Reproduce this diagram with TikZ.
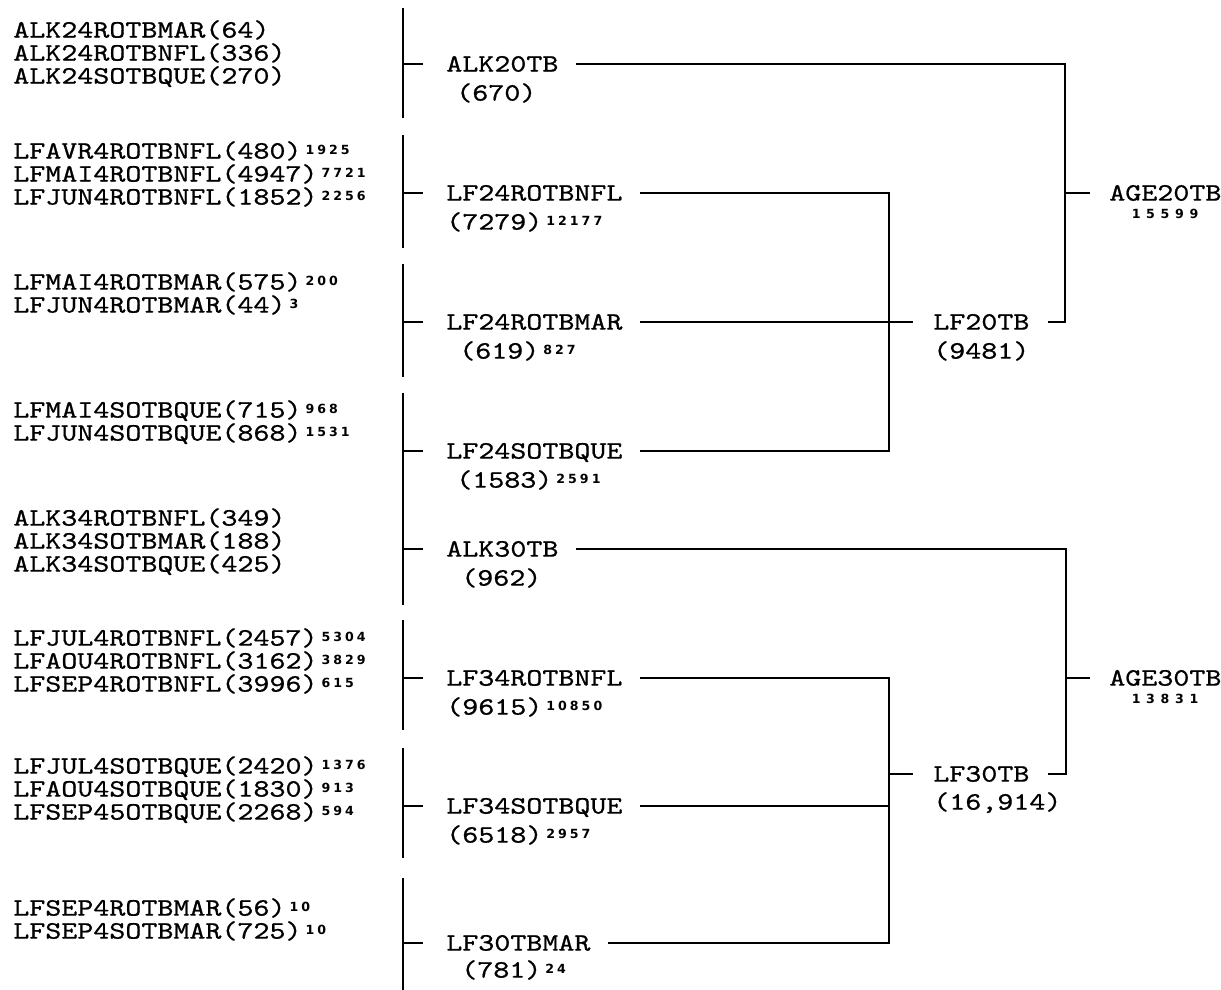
\documentclass[tikz,border=0pt]{standalone}
\usepackage{fontspec}
\newfontfamily\tw{lmmono10-regular}[Extension=.otf, FakeStretch=1.22, FakeBold=0.8]
\newfontfamily\supf{DejaVu Sans}[LetterSpace=24]
\newfontfamily\supw{DejaVu Sans}[LetterSpace=45]
\newcommand\mf{\tw\fontsize{12.5pt}{14pt}\selectfont}
\newcommand\sx[1]{\hspace{2pt}\raisebox{2pt}{\supf\bfseries\fontsize{6.3pt}{6.3pt}\selectfont #1}}
\begin{document}
\begin{tikzpicture}[x=0.5pt,y=-0.5pt,line width=1.3pt,
  txt/.style={font=\mf, inner sep=0pt, anchor=west, text height=7.6pt, text depth=0pt},
  tot/.style={font=\supw\bfseries\fontsize{6.3pt}{6.3pt}\selectfont, inner sep=0pt, anchor=center}]
\useasboundingbox (0,0) rectangle (1221,990);
% left column
\node[txt] (a1) at (12,30) {ALK24ROTBMAR(64)};
\node[txt] (a2) at (12,53) {ALK24ROTBNFL(336)};
\node[txt] (a3) at (12,76) {ALK24SOTBQUE(270)};
\node[txt] (a4) at (12,151) {LFAVR4ROTBNFL(480)\sx{1925}};
\node[txt] (a5) at (12,174) {LFMAI4ROTBNFL(4947)\sx{7721}};
\node[txt] (a6) at (12,197) {LFJUN4ROTBNFL(1852)\sx{2256}};
\node[txt] (a7) at (12,282) {LFMAI4ROTBMAR(575)\sx{200}};
\node[txt] (a8) at (12,305) {LFJUN4ROTBMAR(44)\sx{3}};
\node[txt] (a9) at (12,410) {LFMAI4SOTBQUE(715)\sx{968}};
\node[txt] (a10) at (12,433) {LFJUN4SOTBQUE(868)\sx{1531}};
\node[txt] (a11) at (12,518) {ALK34ROTBNFL(349)};
\node[txt] (a12) at (12,541) {ALK34SOTBMAR(188)};
\node[txt] (a13) at (12,564) {ALK34SOTBQUE(425)};
\node[txt] (a14) at (12,638) {LFJUL4ROTBNFL(2457)\sx{5304}};
\node[txt] (a15) at (12,661) {LFAOU4ROTBNFL(3162)\sx{3829}};
\node[txt] (a16) at (12,684) {LFSEP4ROTBNFL(3996)\sx{615}};
\node[txt] (a17) at (12,766) {LFJUL4SOTBQUE(2420)\sx{1376}};
\node[txt] (a18) at (12,789) {LFAOU4SOTBQUE(1830)\sx{913}};
\node[txt] (a19) at (12,812) {LFSEP45OTBQUE(2268)\sx{594}};
\node[txt] (a20) at (12,908) {LFSEP4ROTBMAR(56)\sx{10}};
\node[txt] (a21) at (12,931) {LFSEP4SOTBMAR(725)\sx{10}};
% group bars
\coordinate (b1t) at (403,8);   \coordinate (b1b) at (403,118);
\coordinate (b2t) at (403,135); \coordinate (b2b) at (403,248);
\coordinate (b3t) at (403,264); \coordinate (b3b) at (403,377);
\coordinate (b4t) at (403,393); \coordinate (b4b) at (403,605);
\coordinate (b6t) at (403,620); \coordinate (b6b) at (403,730);
\coordinate (b7t) at (403,748); \coordinate (b7b) at (403,858);
\coordinate (b8t) at (403,878); \coordinate (b8b) at (403,990);
\foreach \g in {1,2,3,4,6,7,8} {\draw (b\g t) -- (b\g b);}
% middle column
\node[txt] (m1) at (445,64) {ALK20TB};
\node[txt] (n1) at (455,93) {(670)};
\node[txt] (m2) at (445,193) {LF24ROTBNFL};
\node[txt] (n2) at (445,222) {(7279)\sx{12177}};
\node[txt] (m3) at (445,322) {LF24ROTBMAR};
\node[txt] (n3) at (458,351) {(619)\sx{827}};
\node[txt] (m4) at (445,451) {LF24SOTBQUE};
\node[txt] (n4) at (455,480) {(1583)\sx{2591}};
\node[txt] (m5) at (445,549) {ALK30TB};
\node[txt] (n5) at (460,578) {(962)};
\node[txt] (m6) at (445,678) {LF34ROTBNFL};
\node[txt] (n6) at (445,707) {(9615)\sx{10850}};
\node[txt] (m7) at (445,806) {LF34SOTBQUE};
\node[txt] (n7) at (445,835) {(6518)\sx{2957}};
\node[txt] (m8) at (445,943) {LF30TBMAR};
\node[txt] (n8) at (460,970) {(781)\sx{24}};
% ticks from bars
\foreach \m in {1,...,8} {\draw (m\m.west -| b1t) -- ([xshift=-11pt]m\m.west);}
% right column
\node[txt] (r1) at (932,322) {LF20TB};
\node[txt] (s1) at (932,351) {(9481)};
\node[txt] (r2) at (932,774) {LF30TB};
\node[txt] (s2) at (932,802) {(16,914)};
\node[txt] (t1) at (1108,193) {AGE20TB};
\node[tot] (u1) at (1165,214) {15599};
\node[txt] (t2) at (1108,678) {AGE30TB};
\node[tot] (u2) at (1165,699) {13831};
% junctions
\coordinate (ja) at (889,193); \coordinate (jb) at (889,451);
\coordinate (jA) at (1065,64); \coordinate (jB) at (1065,322); \coordinate (jT1) at (1065,193);
\coordinate (jc) at (889,678); \coordinate (jd) at (889,943); \coordinate (je) at (889,806); \coordinate (jf) at (889,774);
\coordinate (jD) at (1066,549); \coordinate (jE) at (1066,774); \coordinate (jT2) at (1066,678);
% upper tree
\draw ([xshift=8pt]m2.east) -- (ja) -- (jb) -- ([xshift=8pt]m4.east);
\draw ([xshift=8pt]m3.east) -- ([xshift=-9.5pt]r1.west);
\draw ([xshift=8pt]m1.east) -- (jA) -- (jB) -- ([xshift=8.5pt]r1.east);
\draw (jT1) -- ([xshift=-9pt]t1.west);
% lower tree
\draw ([xshift=8pt]m6.east) -- (jc) -- (jd) -- ([xshift=8pt]m8.east);
\draw ([xshift=8pt]m7.east) -- (je);
\draw (jf) -- ([xshift=-9.5pt]r2.west);
\draw ([xshift=8pt]m5.east) -- (jD) -- (jE) -- ([xshift=8.5pt]r2.east);
\draw (jT2) -- ([xshift=-9pt]t2.west);
\end{tikzpicture}
\end{document}
